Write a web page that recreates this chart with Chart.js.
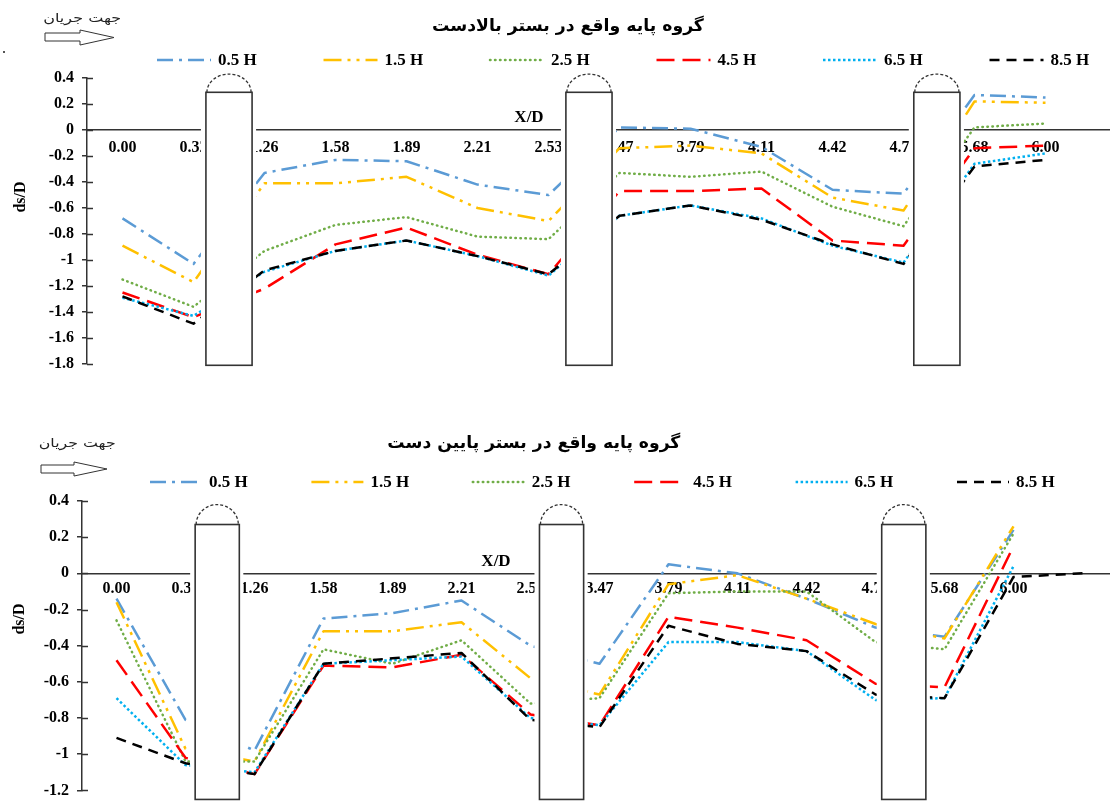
<!DOCTYPE html>
<html lang="fa">
<head>
<meta charset="utf-8">
<title>گروه پایه</title>
<script src="https://cdn.jsdelivr.net/npm/chart.js@4.4.1/dist/chart.umd.min.js"></script>
<style>
  html, body { margin: 0; padding: 0; background: #fff; width: 1110px; height: 808px; overflow: hidden; position: relative; }
  canvas { position: absolute; left: 0; }
  .txt { position: absolute; white-space: nowrap; direction: rtl; color: #000; transform-origin: center center; line-height: 1; }
  .title { font: bold 17px "DejaVu Sans"; }
  .flow { font: 12px "DejaVu Sans"; color: #222; }
  svg.deco { position: absolute; left: 0; top: 0; pointer-events: none; }
</style>
</head>
<body>
<canvas id="upChart" width="1160" height="400" style="top:0"></canvas>
<canvas id="downChart" width="1160" height="408" style="top:400px"></canvas>

<div class="txt title" id="titleUp">گروه پایه واقع در بستر بالادست</div>
<div class="txt title" id="titleDown">گروه پایه واقع در بستر پایین دست</div>
<div class="txt flow" id="flowUp">جهت جریان</div>
<div class="txt flow" id="flowDown">جهت جریان</div>

<svg class="deco" width="1110" height="808">
  <polygon points="45,33 80,33 80,30 114,37.5 80,45 80,41 45,41" fill="#fff" stroke="#333" stroke-width="1"/>
  <polygon points="41,465 74,465 74,462 107,469 74,476 74,473 41,473" fill="#fff" stroke="#333" stroke-width="1"/>
  <rect x="3" y="51" width="2" height="2" fill="#555"/>
</svg>

<script>
// X/D stations along the pier group (last slot is an unlabeled station)
const categories = ['0.00', '0.32', '1.26', '1.58', '1.89', '2.21', '2.53', '3.47', '3.79', '4.11', '4.42', '4.74', '5.68', '6.00', ''];
const seriesNames = ['0.5 H', '1.5 H', '2.5 H', '4.5 H', '6.5 H', '8.5 H'];

// ds/D – pier group placed in the upstream bed
const up05 = [-0.68, -1.03, -0.33, -0.23, -0.24, -0.42, -0.50, 0.02, 0.01, -0.13, -0.46, -0.49, 0.27, 0.25, null];
const up15 = [-0.89, -1.17, -0.41, -0.41, -0.36, -0.60, -0.70, -0.14, -0.12, -0.18, -0.52, -0.62, 0.22, 0.21, null];
const up25 = [-1.15, -1.36, -0.93, -0.73, -0.67, -0.82, -0.84, -0.33, -0.36, -0.32, -0.59, -0.74, 0.02, 0.05, null];
const up45 = [-1.25, -1.44, -1.22, -0.88, -0.75, -0.96, -1.11, -0.47, -0.47, -0.45, -0.85, -0.89, -0.14, -0.12, null];
const up65 = [-1.29, -1.43, -1.09, -0.93, -0.85, -0.97, -1.12, -0.66, -0.58, -0.68, -0.89, -1.02, -0.26, -0.18, null];
const up85 = [-1.28, -1.49, -1.08, -0.93, -0.85, -0.97, -1.11, -0.66, -0.58, -0.69, -0.88, -1.03, -0.28, -0.23, null];

// ds/D – pier group placed in the downstream bed
const down05 = [-0.14, -0.81, -0.98, -0.25, -0.22, -0.15, -0.40, -0.50, 0.05, 0.00, -0.14, -0.30, -0.35, 0.24, null];
const down15 = [-0.16, -0.97, -1.04, -0.32, -0.32, -0.27, -0.58, -0.67, -0.06, -0.01, -0.14, -0.28, -0.36, 0.26, null];
const down25 = [-0.26, -1.04, -1.04, -0.42, -0.50, -0.37, -0.72, -0.69, -0.11, -0.10, -0.10, -0.38, -0.42, 0.22, null];
const down45 = [-0.48, -1.02, -1.11, -0.51, -0.52, -0.45, -0.78, -0.84, -0.24, -0.30, -0.37, -0.61, -0.63, 0.15, null];
const down65 = [-0.69, -1.06, -1.10, -0.50, -0.48, -0.46, -0.80, -0.84, -0.38, -0.38, -0.43, -0.70, -0.69, 0.04, null];
const down85 = [-0.91, -1.05, -1.11, -0.50, -0.47, -0.44, -0.81, -0.85, -0.29, -0.39, -0.43, -0.67, -0.69, -0.02, 0.00];

// vertical axis ticks
const yTicksUp = [0.4, 0.2, 0, -0.2, -0.4, -0.6, -0.8, -1, -1.2, -1.4, -1.6, -1.8];
const yTickLabelsUp = ['0.4', '0.2', '0', '-0.2', '-0.4', '-0.6', '-0.8', '-1', '-1.2', '-1.4', '-1.6', '-1.8'];
const yTicksDown = [0.4, 0.2, 0, -0.2, -0.4, -0.6, -0.8, -1, -1.2];
const yTickLabelsDown = ['0.4', '0.2', '0', '-0.2', '-0.4', '-0.6', '-0.8', '-1', '-1.2'];

// line appearance per series
const lineStyles = [
  { color: '#5B9BD5', dash: [16, 6, 3, 6], cap: 'butt' },
  { color: '#FFC000', dash: [18, 6, 3, 6, 3, 6], cap: 'butt' },
  { color: '#70AD47', dash: [0.5, 4.5], cap: 'round' },
  { color: '#FF0000', dash: [18, 8], cap: 'butt' },
  { color: '#00B0F0', dash: [2.5, 2.5], cap: 'butt' },
  { color: '#000000', dash: [10, 7], cap: 'butt' }
];

const serifBold = (size) => ({ family: 'Liberation Serif', size: size, weight: 'bold' });

// piers, legend and axis captions drawn on top of the plot
function makeFrame(L) {
  return {
    id: 'frame',
    afterDatasetsDraw(chart) {
      const { ctx } = chart;
      const xs = chart.scales.x, ys = chart.scales.y;
      const step = xs.width / chart.data.labels.length;
      const half = step * L.pier.width / 2;
      L.pier.at.forEach((p) => {
        const cx = xs.getPixelForValue(p);
        const top = ys.getPixelForValue(L.pier.top);
        const bot = ys.getPixelForValue(L.pier.bottom);
        const dome = ys.getPixelForValue(L.pier.dome);
        ctx.save();
        ctx.fillStyle = '#fff';
        ctx.fillRect(cx - half - 5, top, 2 * half + 9, bot - top + 3);
        ctx.strokeStyle = '#333';
        ctx.lineWidth = 1.6;
        ctx.strokeRect(cx - half, top, 2 * half, bot - top);
        ctx.setLineDash([3, 2]);
        ctx.lineWidth = 1.3;
        ctx.beginPath();
        ctx.ellipse(cx, top, half - 1, top - dome, 0, Math.PI, 2 * Math.PI);
        ctx.stroke();
        ctx.restore();
      });
    },
    afterDraw(chart) {
      const { ctx, chartArea } = chart;
      const ys = chart.scales.y;
      ctx.save();
      // tick marks crossing to the inside of the vertical axis
      ctx.strokeStyle = '#333';
      ctx.lineWidth = 1.5;
      ys.ticks.forEach((t) => {
        const y = Math.round(ys.getPixelForValue(t.value)) + 0.5;
        ctx.beginPath();
        ctx.moveTo(chartArea.left, y);
        ctx.lineTo(chartArea.left + 6, y);
        ctx.stroke();
      });
      // legend
      chart.data.datasets.forEach((ds, i) => {
        const sx = L.legend.x0 + i * L.legend.step;
        ctx.save();
        ctx.strokeStyle = ds.borderColor;
        ctx.lineWidth = ds.borderWidth;
        ctx.lineCap = ds.borderCapStyle;
        ctx.setLineDash(ds.borderDash);
        ctx.beginPath();
        ctx.moveTo(sx, L.legend.y);
        ctx.lineTo(sx + L.legend.len, L.legend.y);
        ctx.stroke();
        ctx.restore();
        ctx.fillStyle = '#000';
        ctx.font = 'bold 17px "Liberation Serif"';
        ctx.textAlign = 'left';
        ctx.textBaseline = 'middle';
        ctx.fillText(ds.label, sx + L.legend.dx, L.legend.y + 1);
      });
      // axis captions
      ctx.fillStyle = '#000';
      ctx.font = 'bold 17px "Liberation Serif"';
      ctx.textAlign = 'center';
      ctx.textBaseline = 'middle';
      ctx.fillText('X/D', L.xTitle.x, L.xTitle.y);
      ctx.translate(L.yTitle.x, L.yTitle.y);
      ctx.rotate(-Math.PI / 2);
      ctx.font = 'bold 16px "Liberation Serif"';
      ctx.fillText('ds/D', 0, 0);
      ctx.restore();
    }
  };
}

function buildChart(canvasId, values, yTicks, yLabels, L) {
  const datasets = values.map((v, i) => ({
    label: seriesNames[i],
    data: v,
    borderColor: lineStyles[i].color,
    borderDash: lineStyles[i].dash,
    borderCapStyle: lineStyles[i].cap,
    borderJoinStyle: 'round',
    borderWidth: 2.5,
    pointRadius: 0,
    pointHoverRadius: 0,
    fill: false,
    tension: 0,
    spanGaps: false,
    order: values.length - 1 - i
  }));
  return new Chart(document.getElementById(canvasId), {
    type: 'line',
    data: { labels: categories, datasets: datasets },
    options: {
      responsive: false,
      animation: false,
      devicePixelRatio: 1,
      events: [],
      layout: { padding: { left: 0, top: L.padTop, right: L.padRight, bottom: L.padBottom } },
      plugins: { legend: { display: false }, title: { display: false }, tooltip: { enabled: false } },
      scales: {
        x: {
          type: 'category',
          offset: true,
          position: { y: 0 },
          grid: { display: false, drawTicks: false },
          border: { display: true, color: '#333', width: 1.5 },
          ticks: { autoSkip: false, maxRotation: 0, minRotation: 0, padding: L.xTickPad, color: '#000', font: serifBold(16) },
          afterFit(s) { s.height = 0; }
        },
        y: {
          type: 'linear',
          min: L.yMin,
          max: L.yMax,
          afterBuildTicks(s) { s.ticks = yTicks.map((v) => ({ value: v })); },
          afterFit(s) { s.width = L.yAxisWidth; },
          grid: { display: true, drawOnChartArea: false, drawTicks: true, tickLength: 5, color: '#333', lineWidth: 1.5 },
          border: { display: true, color: '#333', width: 1.5 },
          ticks: { padding: 8, color: '#000', font: serifBold(16), callback: (v, i) => yLabels[i] }
        }
      }
    },
    plugins: [makeFrame(L)]
  });
}

buildChart('upChart', [up05, up15, up25, up45, up65, up85], yTicksUp, yTickLabelsUp, {
  padTop: 78, padBottom: 36, padRight: 8, yAxisWidth: 87, yMin: -1.8, yMax: 0.4, xTickPad: 8,
  pier: { at: [1.5, 6.57, 11.47], width: 0.65, top: 0.29, bottom: -1.81, dome: 0.43 },
  legend: { x0: 157, step: 166.5, y: 60, len: 54, dx: 61 },
  xTitle: { x: 529, y: 118 },
  yTitle: { x: 21, y: 197 }
});

buildChart('downChart', [down05, down15, down25, down45, down65, down85], yTicksDown, yTickLabelsDown, {
  padTop: 101, padBottom: 12, padRight: 43, yAxisWidth: 82, yMin: -1.2, yMax: 0.4, xTickPad: 6,
  pier: { at: [1.46, 6.45, 11.41], width: 0.64, top: 0.27, bottom: -1.25, dome: 0.38 },
  legend: { x0: 150, step: 161.4, y: 82, len: 52, dx: 59 },
  xTitle: { x: 496, y: 162 },
  yTitle: { x: 20, y: 219 }
});

// center a caption on a point and stretch it to the given width
function placeText(id, cx, cy, w) {
  const el = document.getElementById(id);
  const r = el.getBoundingClientRect();
  el.style.left = (cx - r.width / 2) + 'px';
  el.style.top = (cy - r.height / 2) + 'px';
  el.style.transform = 'scaleX(' + (w / r.width) + ')';
}
placeText('titleUp', 568, 25, 272);
placeText('titleDown', 534, 442, 293);
placeText('flowUp', 82, 18, 78);
placeText('flowDown', 77, 443, 77);
</script>
</body>
</html>
